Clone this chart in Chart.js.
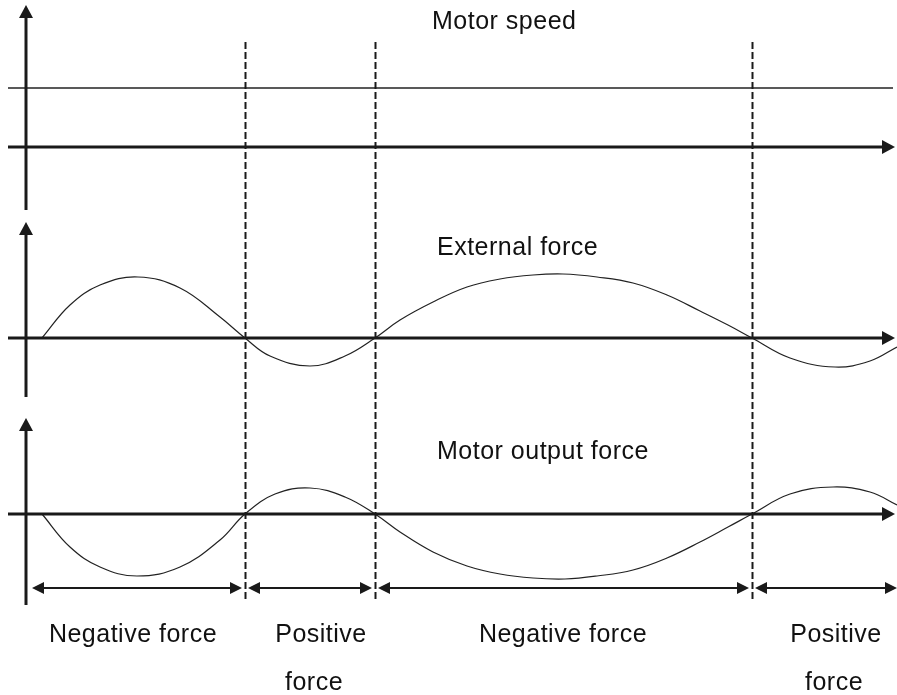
<!DOCTYPE html>
<html>
<head>
<meta charset="utf-8">
<script src="https://cdn.jsdelivr.net/npm/chart.js@4.4.1/dist/chart.umd.min.js"></script>
<style>
    html, body { margin: 0; padding: 0; background: #fff; }
    #wrap { width: 897px; height: 695px; }
</style>
</head>
<body>
<div id="wrap"><canvas id="chart" width="897" height="695"></canvas></div>
<script>
// --- Dane ---
const phaseBounds = [30, 245, 375, 752, 897];
const phaseLabels = [['Negative force'], ['Positive', 'force'], ['Negative force'], ['Positive', 'force']];
const panelTitles = ['Motor speed', 'External force', 'Motor output force'];

const speedTime = [8, 893];
const motorSpeed = [59, 59];

const extTime = [42, 70, 100, 138, 180, 220, 245, 270, 310, 345, 375, 400, 433, 467, 500, 533, 563, 597, 633, 667, 700, 728, 752, 790, 835, 870, 897];
const externalForce = [0, 33, 53, 61, 50, 21, 0, -18, -28, -18, 0, 18, 36, 51, 59, 63, 64, 61, 55, 43, 27, 13, 0, -20, -29, -23, -9];

const outTime = [42, 70, 100, 137, 180, 220, 245, 275, 310, 345, 375, 400, 433, 467, 500, 533, 565, 597, 633, 667, 700, 728, 752, 790, 833, 870, 897];
const motorOutputForce = [0, -33, -53, -62, -53, -26, 0, 20, 26, 17, 0, -18, -38, -52, -60, -64, -65, -62, -56, -44, -28, -13, 0, 20, 27, 22, 9];

function toPoints(xs, ys) {
    return xs.map((x, i) => ({ x: x, y: ys[i] }));
}

// --- Rysowanie osi, strzałek, linii przerywanych i opisów ---
const diagramPlugin = {
    id: 'diagram',
    afterDatasetsDraw(chart) {
        const ctx = chart.ctx;
        const xs = chart.scales.x;
        const ink = '#1a1a1a';
        const axisX = xs.getPixelForValue(26);
        const axisEnd = xs.getPixelForValue(895);
        const axisStart = xs.getPixelForValue(8);

        ctx.save();

        // linie przerywane na granicach faz
        ctx.strokeStyle = ink;
        ctx.lineWidth = 2;
        ctx.setLineDash([7, 3]);
        phaseBounds.slice(1, 4).forEach(b => {
            const px = Math.round(xs.getPixelForValue(b)) + 0.5;
            ctx.beginPath();
            ctx.moveTo(px, 42);
            ctx.lineTo(px, 600);
            ctx.stroke();
        });
        ctx.setLineDash([]);

        function arrowHead(tipX, tipY, dir, len, half) {
            ctx.beginPath();
            if (dir === 'up') {
                ctx.moveTo(tipX, tipY);
                ctx.lineTo(tipX - half, tipY + len);
                ctx.lineTo(tipX + half, tipY + len);
            } else if (dir === 'right') {
                ctx.moveTo(tipX, tipY);
                ctx.lineTo(tipX - len, tipY - half);
                ctx.lineTo(tipX - len, tipY + half);
            } else {
                ctx.moveTo(tipX, tipY);
                ctx.lineTo(tipX + len, tipY - half);
                ctx.lineTo(tipX + len, tipY + half);
            }
            ctx.closePath();
            ctx.fill();
        }

        // osie pionowe
        ctx.fillStyle = ink;
        ctx.lineWidth = 3;
        [[5, 210], [222, 397], [418, 605]].forEach(([top, bottom]) => {
            ctx.beginPath();
            ctx.moveTo(axisX, top + 10);
            ctx.lineTo(axisX, bottom);
            ctx.stroke();
            arrowHead(axisX, top, 'up', 13, 7);
        });

        // osie poziome (zero każdej skali)
        ['ySpeed', 'yExt', 'yOut'].forEach(id => {
            const py = chart.scales[id].getPixelForValue(0);
            ctx.beginPath();
            ctx.moveTo(axisStart, py);
            ctx.lineTo(axisEnd - 10, py);
            ctx.stroke();
            arrowHead(axisEnd, py, 'right', 13, 7);
        });

        // strzałki zakresów faz
        const spanY = 588;
        ctx.lineWidth = 2;
        for (let i = 0; i < phaseBounds.length - 1; i++) {
            const a = xs.getPixelForValue(phaseBounds[i]) + (i === 0 ? 2 : 3);
            const b = xs.getPixelForValue(phaseBounds[i + 1]) - (i === phaseBounds.length - 2 ? 0 : 3);
            ctx.beginPath();
            ctx.moveTo(a + 8, spanY);
            ctx.lineTo(b - 8, spanY);
            ctx.stroke();
            arrowHead(a, spanY, 'left', 12, 6);
            arrowHead(b, spanY, 'right', 12, 6);
        }

        // opisy
        ctx.font = "25px 'Liberation Sans', Arial, sans-serif";
        ctx.letterSpacing = '0.5px';
        ctx.fillStyle = '#111';
        ctx.textAlign = 'left';
        ctx.textBaseline = 'alphabetic';
        ctx.fillText(panelTitles[0], 432, 29);
        ctx.fillText(panelTitles[1], 437, 255);
        ctx.fillText(panelTitles[2], 437, 459);

        ctx.textAlign = 'center';
        const labelX = [[133], [321, 314], [563], [836, 834]];
        phaseLabels.forEach((lines, i) => {
            lines.forEach((t, j) => {
                ctx.fillText(t, labelX[i][j], 642 + j * 48);
            });
        });

        ctx.restore();
    }
};

new Chart(document.getElementById('chart'), {
    type: 'line',
    data: {
        datasets: [
            {
                label: 'Motor speed',
                data: toPoints(speedTime, motorSpeed),
                yAxisID: 'ySpeed',
                borderColor: '#222',
                borderWidth: 1.3,
                pointRadius: 0,
                tension: 0
            },
            {
                label: 'External force',
                data: toPoints(extTime, externalForce),
                yAxisID: 'yExt',
                borderColor: '#222',
                borderWidth: 1.2,
                pointRadius: 0,
                tension: 0.4
            },
            {
                label: 'Motor output force',
                data: toPoints(outTime, motorOutputForce),
                yAxisID: 'yOut',
                borderColor: '#222',
                borderWidth: 1.2,
                pointRadius: 0,
                tension: 0.4
            }
        ]
    },
    options: {
        responsive: false,
        animation: false,
        layout: { padding: 0 },
        plugins: {
            legend: { display: false },
            tooltip: { enabled: false }
        },
        scales: {
            x: { type: 'linear', min: 0, max: 897, display: false },
            ySpeed: { type: 'linear', min: -548, max: 147, display: false },
            yExt: { type: 'linear', min: -357, max: 338, display: false },
            yOut: { type: 'linear', min: -181, max: 514, display: false }
        }
    },
    plugins: [diagramPlugin]
});
</script>
</body>
</html>
